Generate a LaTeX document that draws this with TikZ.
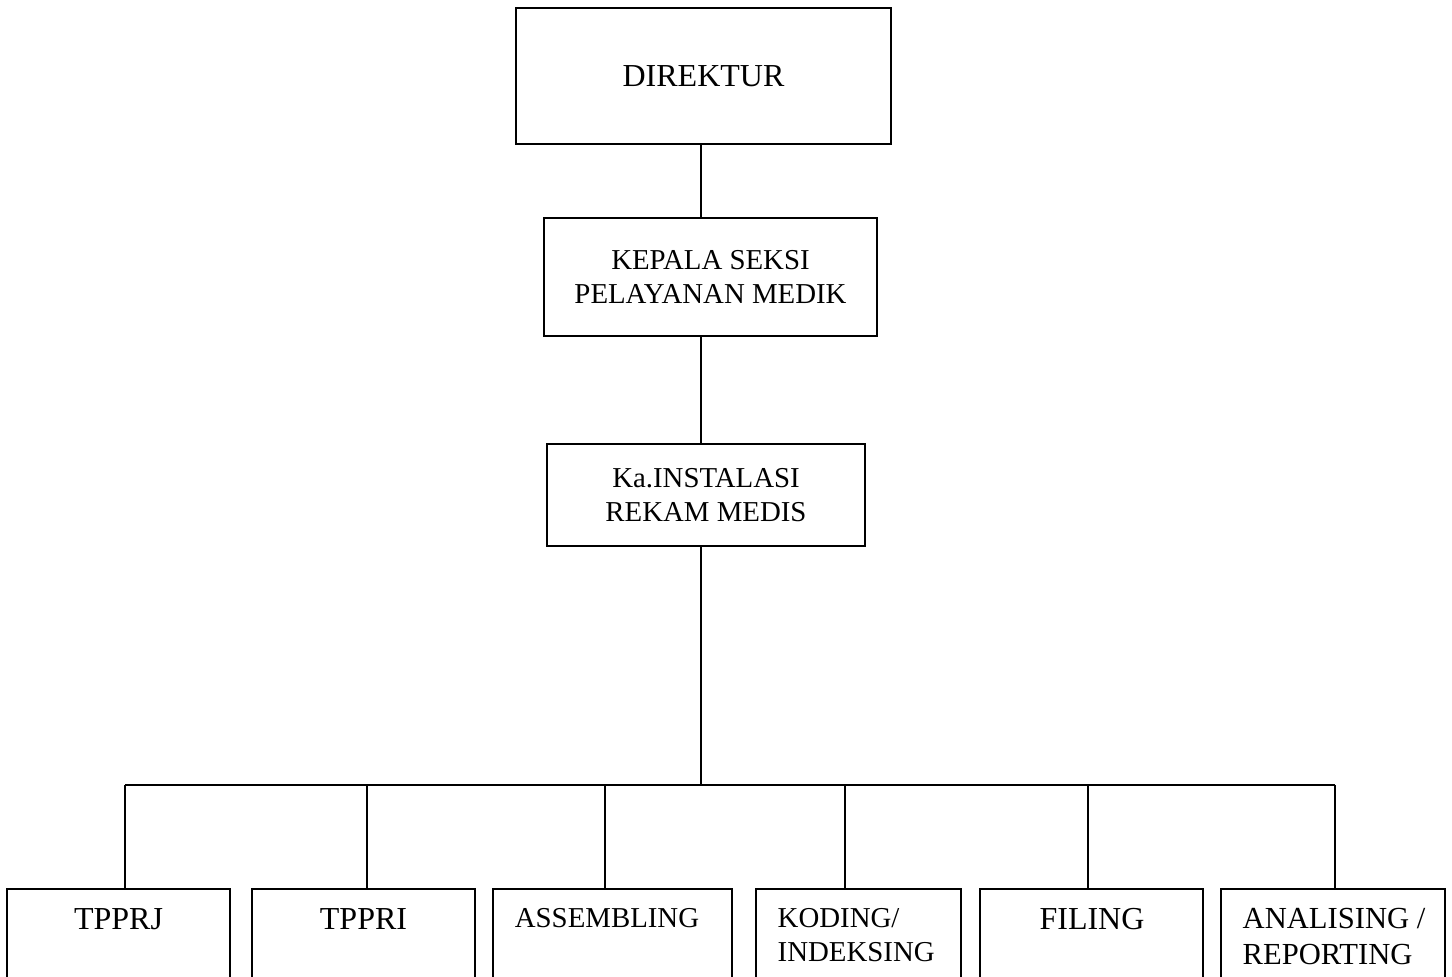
\documentclass[tikz,border=0pt]{standalone}
\usepackage{fontspec}
\setmainfont{Liberation Serif}
\usepackage{tikz}
\usetikzlibrary{positioning}
\newcommand{\bigtext}{\fontsize{9.1pt}{10.4pt}\selectfont}
\newcommand{\midtext}{\fontsize{8.7pt}{10pt}\selectfont}
\newcommand{\smalltext}{\fontsize{8.2pt}{9.6pt}\selectfont}
\tikzstyle{orgline} = [line width=0.6pt, color=black]
\tikzstyle{orgbox} = [rectangle, draw=black, line width=0.6pt, inner sep=0pt, text centered]
\tikzstyle{subbox} = [orgbox, anchor=north, minimum height=1.4cm]
\tikzstyle{subtext} = [inner sep=0pt, anchor=north]

\begin{document}
\begin{tikzpicture}[x=0.01cm, y=-0.01cm]
\useasboundingbox (0,0) rectangle (1452,977);

% Upper levels
\node[orgbox, minimum width=3.75cm, minimum height=1.36cm, font=\bigtext] (dir) at (703.5,76) {DIREKTUR};
\node[orgbox, minimum width=3.33cm, minimum height=1.18cm, font=\smalltext, align=center] (kasi) at (710.5,277) {KEPALA SEKSI\\PELAYANAN MEDIK};
\node[orgbox, minimum width=3.18cm, minimum height=1.02cm, font=\smalltext, align=center] (kainst) at (706,495) {Ka.INSTALASI\\REKAM MEDIS};

% Vertical trunk
\coordinate (trunk) at (701,785);
\draw[orgline] (dir.south -| trunk) -- (kasi.north -| trunk);
\draw[orgline] (kasi.south -| trunk) -- (kainst.north -| trunk);
\draw[orgline] (kainst.south -| trunk) -- (trunk);

% Branch bar
\coordinate (b1) at (125,785);
\coordinate (b2) at (367,785);
\coordinate (b3) at (605,785);
\coordinate (b4) at (845,785);
\coordinate (b5) at (1088,785);
\coordinate (b6) at (1335,785);
\draw[orgline] (b1) -- (b6);

% Units at the bottom (cut off by the page edge)
\node[subbox, minimum width=2.23cm] (tpprj) at (118.5,888) {};
\node[subbox, minimum width=2.23cm] (tppri) at (363.5,888) {};
\node[subbox, minimum width=2.39cm] (assem) at (612.5,888) {};
\node[subbox, minimum width=2.05cm] (koding) at (858.5,888) {};
\node[subbox, minimum width=2.23cm] (filing) at (1091.5,888) {};
\node[subbox, minimum width=2.24cm] (analis) at (1333,888) {};

% Drops to the units
\draw[orgline] (b1) -- (b1 |- tpprj.north);
\draw[orgline] (b2) -- (b2 |- tppri.north);
\draw[orgline] (b3) -- (b3 |- assem.north);
\draw[orgline] (b4) -- (b4 |- koding.north);
\draw[orgline] (b5) -- (b5 |- filing.north);
\draw[orgline] (b6) -- (b6 |- analis.north);

% Unit labels
\node[subtext, font=\bigtext] (tpprjlbl) at (118.5,908) {TPPRJ};
\node[subtext, font=\bigtext] (tpprilbl) at (363.5,908) {TPPRI};
\node[subtext, font=\smalltext] (assemlbl) at (607,908) {ASSEMBLING};
\node[subtext, anchor=north west, align=left, font=\smalltext] (kodinglbl) at (777,908) {KODING/\\INDEKSING};
\node[subtext, font=\bigtext] (filinglbl) at (1092,908) {FILING};
\node[subtext, anchor=north west, align=left, font=\midtext] (analislbl) at (1242,908) {ANALISING /\\REPORTING};
\end{tikzpicture}
\end{document}
